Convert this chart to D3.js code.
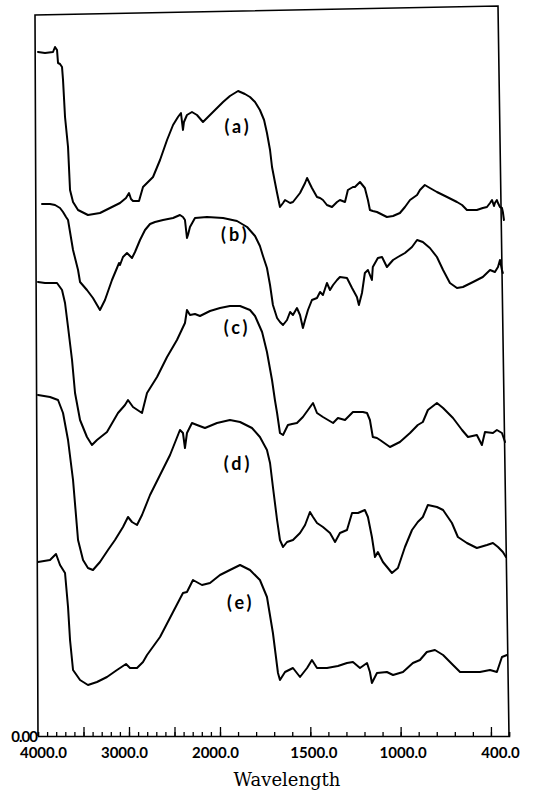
<!DOCTYPE html>
<html><head><meta charset="utf-8">
<script src="https://cdn.jsdelivr.net/npm/d3@7"></script>
<style>body{margin:0;background:#fff}svg{display:block}</style>
</head><body><svg id="c" width="533" height="807"></svg>
<script>
// ---- data (wavenumber cm-1, offset transmittance) ----
const seriesNames = ["(a)", "(b)", "(c)", "(d)", "(e)"];

const traceA = [[4000,68.4],[3923,68.3],[3835,68.4],[3813,68.9],[3791,68.6],[3780,67.3],[3758,67.2],[3736,66.9],[3725,65.6],[3703,61.9],[3670,58.9],[3648,54.6],[3615,53.4],[3560,52.6],[3451,52.1],[3319,52.3],[3209,52.8],[3099,53.3],[3033,53.8],[3000,54.3],[2978,53.7],[2956,53.5],[2890,53.5],[2846,54.9],[2736,55.9],[2659,57.6],[2582,59.6],[2516,61.1],[2462,61.9],[2429,62.3],[2407,60.6],[2396,61.4],[2363,62.1],[2308,62.4],[2253,62.1],[2187,61.4],[2132,61.9],[2077,62.4],[1983,63.4],[1945,64.0],[1900,64.5],[1862,64.2],[1834,63.9],[1806,63.4],[1779,62.6],[1756,61.6],[1740,60.3],[1723,58.6],[1712,56.9],[1696,55.4],[1684,54.3],[1668,52.9],[1651,53.3],[1640,53.6],[1612,53.3],[1596,53.4],[1557,54.3],[1529,55.3],[1518,55.8],[1502,55.2],[1491,54.8],[1463,53.9],[1446,53.8],[1430,53.6],[1408,53.1],[1380,52.9],[1352,53.4],[1336,53.6],[1308,53.4],[1292,54.6],[1264,54.9],[1253,54.9],[1225,55.4],[1198,54.8],[1181,53.6],[1170,52.6],[1154,52.5],[1131,52.4],[1076,51.9],[1042,52.0],[1004,52.3],[976,52.9],[948,53.6],[909,54.1],[893,54.6],[866,55.1],[838,54.8],[799,54.4],[743,53.9],[688,53.4],[660,53.1],[633,52.6],[578,52.6],[545,52.8],[522,52.9],[505,53.3],[494,53.6],[483,53.0],[478,53.3],[467,53.6],[461,53.3],[450,52.9],[439,52.8],[434,52.4],[428,51.6]];

const traceB = [[3956,53.2],[3868,53.2],[3813,53.1],[3758,52.8],[3725,52.4],[3692,51.9],[3670,51.6],[3615,48.6],[3560,46.6],[3538,45.4],[3462,44.6],[3396,43.8],[3319,42.6],[3264,43.6],[3187,45.6],[3132,46.8],[3110,47.3],[3099,47.1],[3066,47.9],[3022,48.3],[2989,48.0],[2967,47.8],[2934,48.4],[2879,49.6],[2824,50.6],[2769,51.2],[2714,51.4],[2626,51.6],[2516,51.8],[2440,52.1],[2407,51.9],[2385,51.6],[2363,49.8],[2352,50.1],[2330,50.9],[2275,51.8],[2143,51.9],[1983,51.8],[1906,51.5],[1850,50.9],[1806,50.0],[1779,49.0],[1762,48.0],[1740,46.8],[1723,45.1],[1707,43.1],[1684,41.8],[1668,41.4],[1651,41.1],[1629,41.6],[1612,42.4],[1596,42.1],[1574,42.8],[1557,42.1],[1541,40.8],[1529,41.6],[1513,42.6],[1491,43.6],[1463,43.8],[1446,44.4],[1430,44.1],[1408,45.3],[1391,44.6],[1374,45.1],[1352,45.6],[1336,45.9],[1297,45.8],[1269,44.8],[1242,43.9],[1231,43.1],[1214,44.3],[1198,46.3],[1181,46.6],[1159,45.6],[1154,46.9],[1126,47.8],[1103,47.9],[1076,46.9],[1042,47.6],[1015,47.9],[976,48.3],[937,48.9],[909,49.6],[877,49.4],[838,48.8],[799,47.9],[765,46.6],[727,45.3],[688,44.8],[655,44.9],[599,45.4],[545,45.9],[505,46.6],[478,46.4],[461,46.9],[450,47.6],[439,46.6],[434,46.3]];

const traceC = [[4000,45.4],[3923,45.3],[3791,45.3],[3736,44.6],[3703,43.3],[3670,40.9],[3626,37.6],[3593,34.3],[3538,31.6],[3462,29.9],[3407,29.1],[3352,29.6],[3242,30.4],[3121,32.3],[3044,33.1],[3011,33.6],[2956,32.9],[2857,32.3],[2802,34.3],[2692,35.9],[2582,37.9],[2473,39.6],[2385,41.3],[2363,42.6],[2330,42.1],[2275,42.2],[2220,42.0],[2110,42.5],[2000,42.8],[1945,43.0],[1889,43.0],[1834,42.6],[1806,42.0],[1767,40.4],[1740,38.4],[1712,35.6],[1696,33.6],[1684,32.3],[1668,30.3],[1651,30.1],[1624,31.1],[1601,31.2],[1574,31.3],[1541,31.9],[1513,32.6],[1485,33.3],[1463,32.3],[1430,31.9],[1374,31.3],[1347,31.8],[1308,31.6],[1264,32.4],[1209,32.4],[1186,32.3],[1170,31.6],[1154,29.9],[1131,29.8],[1114,29.6],[1059,28.9],[1004,29.4],[948,30.3],[905,31.1],[877,31.4],[849,32.6],[799,33.3],[765,32.8],[710,31.8],[660,30.6],[627,29.9],[578,30.1],[550,29.1],[533,30.4],[489,30.3],[467,30.6],[439,30.3],[422,29.4]];

const traceD = [[4000,34.1],[3868,33.9],[3780,33.6],[3725,32.3],[3670,29.6],[3615,25.6],[3560,19.6],[3505,17.6],[3451,16.8],[3396,16.6],[3319,17.4],[3231,18.6],[3154,19.6],[3066,20.9],[3011,21.9],[2967,21.4],[2912,21.1],[2857,22.1],[2769,24.1],[2659,26.1],[2549,28.1],[2440,30.6],[2407,30.3],[2385,28.8],[2363,30.3],[2308,31.3],[2253,31.1],[2165,30.8],[2033,31.3],[1945,31.6],[1889,31.4],[1823,30.8],[1779,29.9],[1740,28.6],[1723,27.3],[1707,24.9],[1684,21.6],[1668,19.6],[1651,18.9],[1629,19.4],[1596,19.6],[1557,20.3],[1529,21.1],[1502,22.4],[1485,21.9],[1463,21.3],[1430,20.9],[1391,20.3],[1363,19.4],[1336,20.3],[1297,20.6],[1269,22.3],[1236,22.3],[1198,22.6],[1181,21.9],[1159,19.9],[1142,17.9],[1126,18.4],[1098,17.4],[1048,16.3],[1015,16.8],[976,18.9],[937,20.6],[905,21.4],[877,21.9],[849,23.1],[799,22.9],[765,22.6],[716,21.3],[683,19.9],[633,19.3],[578,18.8],[522,19.1],[489,19.3],[461,18.9],[434,18.4],[417,17.9]];

const traceE = [[4000,17.4],[3868,17.6],[3802,18.2],[3758,17.1],[3703,16.3],[3670,12.9],[3648,9.6],[3615,6.6],[3538,5.6],[3451,5.1],[3352,5.4],[3242,5.9],[3132,6.6],[3033,7.2],[2989,6.8],[2912,6.8],[2846,7.4],[2802,8.1],[2659,9.9],[2516,12.4],[2407,14.3],[2363,14.4],[2297,15.6],[2198,15.1],[2110,15.3],[2000,16.1],[1945,16.6],[1889,17.1],[1834,16.6],[1779,15.6],[1740,13.9],[1707,10.3],[1679,6.3],[1668,5.6],[1640,6.4],[1596,6.8],[1557,5.9],[1518,6.8],[1491,7.6],[1463,6.8],[1408,6.8],[1347,7.0],[1297,7.3],[1264,7.4],[1225,6.8],[1186,7.3],[1170,6.4],[1159,5.3],[1131,6.3],[1076,6.4],[1042,6.1],[987,6.4],[932,7.3],[893,7.6],[855,8.4],[810,8.6],[765,8.1],[710,7.1],[671,6.4],[561,6.4],[505,6.6],[467,6.4],[439,7.9],[411,8.1]];

const traces = [traceA, traceB, traceC, traceD, traceE];

const tickLabelValues = [4000, 3000, 2000, 1500, 1000, 400];
const tickLabels = ["4000.0", "3000.0", "2000.0", "1500.0", "1000.0", "400.0"];
const majorTicks = [3500, 3000, 2500, 2000, 1500, 1000, 500];
const minorTicks = d3.range(3900, 399, -100);
const originLabel = "0.00";
const xTitle = "Wavelength";

// ---- drawing ----
const svg = d3.select("#c");
// IR chart: scale expands by 2x below 2000 cm-1
const x = d3.scaleLinear().domain([4000, 2000, 400]).range([38, 220, 509]);
const y = d3.scaleLinear().domain([0, 72]).range([736, 16]);

// frame (slightly skewed like the scanned original)
const fr = d3.path();
fr.moveTo(x(4000), y(0));
fr.lineTo(x(4000) - 3, y(72.1));
fr.lineTo(x(400) - 11, y(73.0));
fr.lineTo(x(400), y(0));
svg.append("path").attr("d", fr.toString())
  .attr("fill", "none").attr("stroke", "#000").attr("stroke-width", 1.6);

// minor / major ticks (pointing inward)
svg.append("g").attr("transform", `translate(0,${y(0)})`)
  .call(d3.axisBottom(x).tickValues(minorTicks).tickSize(-4).tickFormat(""))
  .call(g => g.select(".domain").attr("stroke-width", 1.6))
  .call(g => g.selectAll(".tick line").attr("stroke-width", 1.3));
svg.append("g").attr("transform", `translate(0,${y(0)})`)
  .call(d3.axisBottom(x).tickValues(majorTicks).tickSize(-9).tickFormat(""))
  .call(g => g.select(".domain").remove())
  .call(g => g.selectAll(".tick line").attr("stroke-width", 1.3));

// tick labels
const nudge = [5, -5, -5, 3, 2, -9];
svg.append("g").attr("transform", `translate(0,${y(0)})`)
  .call(d3.axisBottom(x).tickValues(tickLabelValues).tickSize(0).tickPadding(11)
    .tickFormat((d, i) => tickLabels[i]))
  .call(g => g.select(".domain").remove())
  .call(g => g.selectAll(".tick text")
    .attr("dx", (d, i) => nudge[i])
    .attr("font-family", "Lato, 'DejaVu Sans', sans-serif")
    .attr("font-weight", 700).attr("font-size", 15).attr("fill", "#000"));

svg.append("text").attr("x", x(4000) - 1).attr("y", y(0) + 6)
  .attr("text-anchor", "end")
  .attr("font-family", "Lato, 'DejaVu Sans', sans-serif")
  .attr("font-weight", 700).attr("font-size", 15).attr("letter-spacing", -1)
  .text(originLabel);

svg.append("text").attr("x", 287).attr("y", 786)
  .attr("text-anchor", "middle")
  .attr("font-family", "'DejaVu Serif', serif").attr("font-size", 18)
  .text(xTitle);

// spectra
const line = d3.line().x(d => x(d[0])).y(d => y(d[1]));
svg.append("g").selectAll("path").data(traces).join("path")
  .attr("d", line)
  .attr("fill", "none").attr("stroke", "#000")
  .attr("stroke-width", 2).attr("stroke-linejoin", "round").attr("stroke-linecap", "round");

// series labels (placed in data space)
const labelAt = [[1900, 60.3], [1915, 49.5], [1905, 40.2], [1900, 26.6], [1885, 12.7]];
svg.append("g").selectAll("text").data(seriesNames).join("text")
  .attr("x", (d, i) => x(labelAt[i][0]))
  .attr("y", (d, i) => y(labelAt[i][1]))
  .attr("text-anchor", "middle")
  .attr("font-family", "Lato, 'DejaVu Sans', sans-serif")
  .attr("font-weight", 700).attr("font-size", 18).attr("letter-spacing", 3)
  .text(d => d);
</script></body></html>
